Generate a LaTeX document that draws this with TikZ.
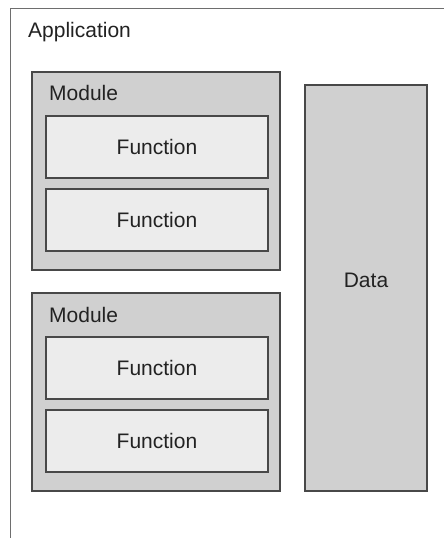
\documentclass[tikz,border=0pt]{standalone}
\usepackage{fontspec}
\setmainfont{Liberation Sans}
\usetikzlibrary{positioning}
\definecolor{modgray}{RGB}{208, 208, 208}
\definecolor{fungray}{RGB}{236, 236, 236}
\definecolor{edgegray}{RGB}{72, 72, 72}
\definecolor{appedge}{RGB}{110, 110, 110}
\definecolor{txtgray}{RGB}{34, 34, 34}

\begin{document}
\begin{tikzpicture}[x=1pt, y=-1pt,
  box/.style={draw=edgegray, line width=1.2pt, inner sep=0pt, outer sep=0pt},
  modbox/.style={box, fill=modgray, minimum width=248pt, minimum height=198pt, anchor=north west},
  funbox/.style={box, fill=fungray, minimum width=222pt, minimum height=62pt, text=txtgray, font=\fontsize{21}{25}\selectfont},
  lbl/.style={anchor=west, inner sep=0pt, text=txtgray, font=\fontsize{21}{25}\selectfont}]
  \useasboundingbox (0,0) rectangle (444,538);
  \clip (0,0) rectangle (444,538);

  % application frame, runs off the right and bottom edges
  \node[draw=appedge, line width=1.2pt, fill=white, inner sep=0pt, minimum width=450pt, minimum height=560pt, anchor=north west] (app) at (10,8) {};
  \node[lbl] (applbl) at (28,32) {Application};

  % first module
  \node[modbox] (mod1) at (32,72) {};
  \node[lbl] (mod1lbl) at (49,93) {Module};
  \node[funbox, below right=44pt and 14pt of mod1.north west] (fun1) {Function};
  \node[funbox, below=11pt of fun1] (fun2) {Function};

  % second module
  \node[modbox] (mod2) at (32,293) {};
  \node[lbl] (mod2lbl) at (49,315) {Module};
  \node[funbox, below right=44pt and 14pt of mod2.north west] (fun3) {Function};
  \node[funbox, below=11pt of fun3] (fun4) {Function};

  % data store
  \node[box, fill=modgray, minimum width=122pt, minimum height=406pt, anchor=north west] (data) at (305,85) {};
  \node[inner sep=0pt, text=txtgray, font=\fontsize{21}{25}\selectfont] (datalbl) at (366,280) {Data};
\end{tikzpicture}
\end{document}
